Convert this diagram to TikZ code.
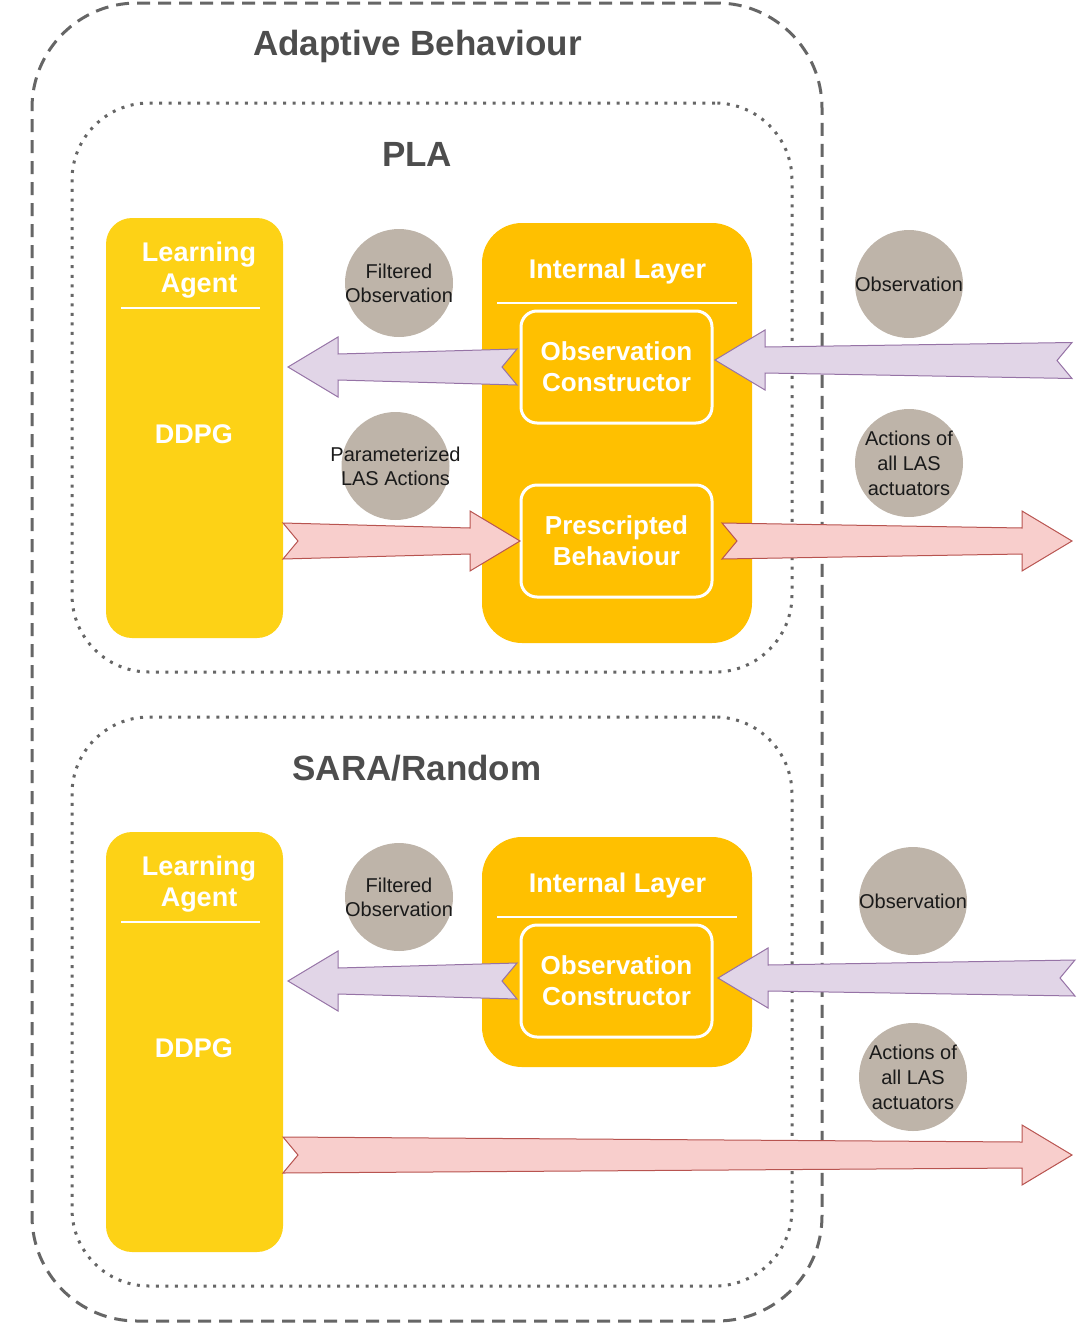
\documentclass[tikz,border=0pt]{standalone}
\usepackage{fontspec}
\setmainfont{Liberation Sans}
\usetikzlibrary{calc}
\definecolor{layellow}{RGB}{253,210,22}
\definecolor{ilyellow}{RGB}{255,192,0}
\definecolor{circfill}{RGB}{190,180,169}
\definecolor{arrpurple}{HTML}{E1D5E7}
\definecolor{arrpurpleline}{HTML}{9673A6}
\definecolor{arrred}{HTML}{F8CECC}
\definecolor{arrredline}{HTML}{B85450}
\definecolor{linegray}{HTML}{666666}
\definecolor{titlegray}{HTML}{4D4D4D}
\definecolor{textblack}{HTML}{1A1A1A}
\tikzset{
  outerbox/.style={draw=linegray, line width=2.25pt, dash pattern=on 9.75pt off 6pt,
    rounded corners=78.75pt, minimum width=592.5pt, minimum height=988.5pt, inner sep=0pt, outer sep=0pt},
  innerbox/.style={draw=linegray, line width=2.25pt, dash pattern=on 2.25pt off 4.9pt,
    rounded corners=57.75pt, minimum width=540pt, minimum height=426.75pt, inner sep=0pt, outer sep=0pt},
  agentbox/.style={fill=layellow, rounded corners=19.5pt, minimum width=132.75pt, minimum height=315pt,
    inner sep=0pt, outer sep=0pt},
  layerbox/.style={fill=ilyellow, rounded corners=30pt, minimum width=202.5pt, inner sep=0pt, outer sep=0pt},
  modbox/.style={draw=white, line width=2.25pt, rounded corners=12pt, minimum width=143.25pt, minimum height=84pt,
    inner sep=0pt, outer sep=0pt, text=white, align=center,
    font=\fontsize{19.5}{23.25}\selectfont\bfseries},
  bubble/.style={circle, fill=circfill, minimum size=81pt, inner sep=0pt},
  bubbletext/.style={inner sep=0pt, text=textblack, align=center, font=\fontsize{15}{18}\selectfont},
  title/.style={text=titlegray, font=\fontsize{26.25}{30}\selectfont\bfseries, inner sep=0pt, anchor=base},
  whitelabel/.style={text=white, font=\fontsize{20.25}{23.25}\selectfont\bfseries, inner sep=0pt, align=center},
  sepline/.style={draw=white, line width=1.5pt},
  purplearrow/.style={fill=arrpurple, draw=arrpurpleline, line width=0.75pt, line join=miter},
  redarrow/.style={fill=arrred, draw=arrredline, line width=0.75pt, line join=miter},
}
\newcommand\fatarrow[4]{%
  \draw[#1] ($(#2)+(0,-18)$) -- ($(#3)+({-(#4)*50},-13)$) -- ($(#3)+({-(#4)*50},-30)$) -- (#3)
    -- ($(#3)+({-(#4)*50},30)$) -- ($(#3)+({-(#4)*50},13)$) -- ($(#2)+(0,18)$)
    -- ($(#2)+({(#4)*15},0)$) -- cycle;}
\begin{document}
\begin{tikzpicture}[x=0.75pt,y=-0.75pt]
\useasboundingbox (0,0) rectangle (1076,1324);
% containers
\node[outerbox] (outer) at (427,662) {};
\node[innerbox] (pla) at (432,387.5) {};
\node[innerbox] (sara) at (432,1001.5) {};
\node[title] (ttlab) at (417.5,55) {Adaptive Behaviour};
\node[title] (ttpla) at (417,166) {PLA};
\node[title] (ttsara) at (417,780) {SARA/Random};
% PLA part
\node[agentbox] (la1) at (194.5,428) {};
\node[whitelabel, anchor=north] (la1t) at (199,242) {Learning\\Agent};
\draw[sepline] ($(la1.north west)+(15,90)$) -- ($(la1.north east)+(-23,90)$);
\node[whitelabel, anchor=base] (la1d) at (194,443) {DDPG};
\node[layerbox, minimum height=315pt] (il1) at (617,433) {};
\node[whitelabel, anchor=base] (il1t) at (617.5,278) {Internal Layer};
\draw[sepline] ($(il1.north west)+(15,80)$) -- ($(il1.north east)+(-15,80)$);
\node[modbox] (oc1) at (616.5,367) {Observation\\Constructor};
\node[modbox] (pb1) at (616.5,541) {Prescripted\\Behaviour};
\node[bubble] (fo1) at (399,283) {};
\node[bubbletext] (fo1t) at (fo1.center) {Filtered\\Observation};
\node[bubble] (pa1) at (395.5,466) {};
\node[bubbletext] (pa1t) at (pa1.center) {Parameterized\\LAS Actions};
\node[bubble] (ob1) at (909,284) {};
\node[bubbletext] (ob1t) at (ob1.center) {Observation};
\node[bubble] (ac1) at (909,463) {};
\node[bubbletext, font=\fontsize{15}{18.75}\selectfont] (ac1t) at (ac1.center) {Actions of\\all LAS\\actuators};
% SARA part
\node[agentbox] (la2) at (194.5,1042) {};
\node[whitelabel, anchor=north] (la2t) at (199,856) {Learning\\Agent};
\draw[sepline] ($(la2.north west)+(15,90)$) -- ($(la2.north east)+(-23,90)$);
\node[whitelabel, anchor=base] (la2d) at (194,1057) {DDPG};
\node[layerbox, minimum height=172.5pt] (il2) at (617,952) {};
\node[whitelabel, anchor=base] (il2t) at (617.5,892) {Internal Layer};
\draw[sepline] ($(il2.north west)+(15,80)$) -- ($(il2.north east)+(-15,80)$);
\node[modbox] (oc2) at (616.5,981) {Observation\\Constructor};
\node[bubble] (fo2) at (399,897) {};
\node[bubbletext] (fo2t) at (fo2.center) {Filtered\\Observation};
\node[bubble] (ob2) at (913,901) {};
\node[bubbletext] (ob2t) at (ob2.center) {Observation};
\node[bubble] (ac2) at (913,1077) {};
\node[bubbletext, font=\fontsize{15}{18.75}\selectfont] (ac2t) at (ac2.center) {Actions of\\all LAS\\actuators};
% free ends of connectors
\coordinate (obsin1) at (1072,360.5);
\coordinate (actout1) at (1072,541);
\coordinate (obsin2) at (1075,978);
\coordinate (actout2) at (1072,1155);
% connectors
\coordinate (a1tail) at ($(oc1.west)+(-4,0)$);
\coordinate (a1tip) at ($(la1.east |- oc1.west)+(5,0)$);
\fatarrow{purplearrow}{a1tail}{a1tip}{-1}
\coordinate (a2tip) at ($(oc1.east)+(3,-7)$);
\fatarrow{purplearrow}{obsin1}{a2tip}{-1}
\coordinate (a3tail) at (la1.east |- pb1.west);
\coordinate (a3tip) at ($(pb1.west)+(-1,0)$);
\fatarrow{redarrow}{a3tail}{a3tip}{1}
\coordinate (a4tail) at ($(pb1.east)+(10,0)$);
\fatarrow{redarrow}{a4tail}{actout1}{1}
\coordinate (b1tail) at ($(oc2.west)+(-4,0)$);
\coordinate (b1tip) at ($(la2.east |- oc2.west)+(5,0)$);
\fatarrow{purplearrow}{b1tail}{b1tip}{-1}
\coordinate (b2tip) at ($(oc2.east)+(6,-3)$);
\fatarrow{purplearrow}{obsin2}{b2tip}{-1}
\coordinate (b3tail) at ($(la2.east)+(0,113)$);
\fatarrow{redarrow}{b3tail}{actout2}{1}
\end{tikzpicture}
\end{document}
